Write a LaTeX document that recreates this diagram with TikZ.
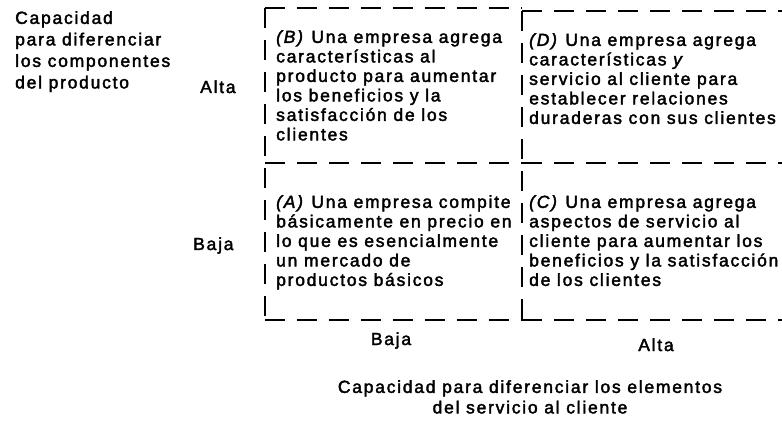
\documentclass[tikz,border=0pt]{standalone}
\usepackage{fontspec}
\setmainfont{Liberation Sans}[LetterSpace=10, FakeBold=2.2]
\usepackage{tikz}
\usetikzlibrary{positioning}

\newcommand\matrixfont{\fontsize{17.5}{19.5}\selectfont}
\newcommand\sidefont{\fontsize{17.5}{21.5}\selectfont}

\tikzset{
	quad/.style = {anchor=north west, inner sep=0pt, align=left, font=\matrixfont},
	axislbl/.style = {anchor=base west, inner sep=0pt, font=\matrixfont},
	gridline/.style = {line width=1.7pt, dash pattern=on 20pt off 12pt}
}

\begin{document}
\begin{tikzpicture}[x=1pt, y=-1pt]
\useasboundingbox (0, 0) rectangle (782, 422);

% corners of the two columns
\coordinate (tl) at (265, 8);
\coordinate (tm) at (522, 8);
\coordinate (tmr) at (522, 11);
\coordinate (tr) at (782, 11);
\coordinate (ml) at (265, 163);
\coordinate (mm) at (522, 163);
\coordinate (mr) at (782, 163);
\coordinate (bl) at (265, 320);
\coordinate (bm) at (522, 320);
\coordinate (br) at (782, 320);

\draw[gridline] (tl) -- (tm);
\draw[gridline] (tmr) -- (tr);
\draw[gridline] (tl) -- (bl);
\draw[gridline] (tmr) -- (bm);
\draw[gridline] (ml) -- (mm);
\draw[gridline] (mm) -- (mr);
\draw[gridline] (bl) -- (bm);
\draw[gridline] (bm) -- (br);

% the four quadrants
\node[quad] (qB) at (276, 30)
	{\textit{(B)} Una empresa agrega\\
	características al\\
	producto para aumentar\\
	los beneficios y la\\
	satisfacción de los\\
	clientes};
\node[quad] (qD) at (529, 33)
	{\textit{(D)} Una empresa agrega\\
	características \textit{y}\\
	servicio al cliente para\\
	establecer relaciones\\
	duraderas con sus clientes};
\node[quad] (qA) at (276, 195)
	{\textit{(A)} Una empresa compite\\
	básicamente en precio en\\
	lo que es esencialmente\\
	un mercado de\\
	productos básicos};
\node[quad] (qC) at (529, 195)
	{\textit{(C)} Una empresa agrega\\
	aspectos de servicio al\\
	cliente para aumentar los\\
	beneficios y la satisfacción\\
	de los clientes};

% axis of the product
\node[quad, font=\sidefont] (prodaxis) at (15, 11)
	{Capacidad\\
	para diferenciar\\
	los componentes\\
	del producto};
\node[axislbl] (prodhigh) at (200, 93) {Alta};
\node[axislbl] (prodlow) at (193, 250) {Baja};

% axis of the service
\node[axislbl, anchor=base] (servlow) at (391, 345) {Baja};
\node[axislbl, anchor=base] (servhigh) at (656, 351) {Alta};
\node[quad, anchor=north, align=center, font=\fontsize{17.5}{20.5}\selectfont] (servaxis) at (530, 380)
	{Capacidad para diferenciar los elementos\\
	del servicio al cliente};
\end{tikzpicture}
\end{document}
